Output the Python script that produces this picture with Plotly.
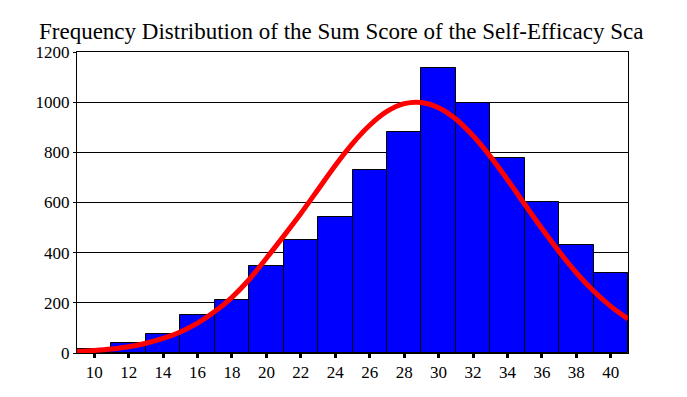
import plotly.graph_objects as go

# Histogram bins (centers) and counts
bin_centers = [10, 12, 14, 16, 18, 20, 22, 24, 26, 28, 30, 32, 34, 36, 38, 40]
counts = [17, 40, 77, 152, 213, 345, 450, 542, 730, 881, 1136, 995, 777, 602, 431, 319]

# Fitted normal curve
curve_x = [9, 10, 11, 12, 13, 14, 15, 16, 17, 18, 19, 20, 21, 22, 23, 24, 25,
           26, 27, 28, 29, 30, 31, 32, 33, 34, 35, 36, 37, 38, 39, 40, 41]
curve_y = [6, 10, 16, 25, 39, 58, 84, 119, 165, 222, 293, 378, 466, 556, 652, 748, 835,
           908, 963, 994, 999, 978, 933, 866, 784, 691, 593, 496, 404, 320, 247, 186, 136]

x_ticks = [10, 12, 14, 16, 18, 20, 22, 24, 26, 28, 30, 32, 34, 36, 38, 40]
y_ticks = [0, 200, 400, 600, 800, 1000, 1200]

title_text = "Frequency Distribution of the Sum Score of the Self-Efficacy Sca"

fig = go.Figure()
fig.add_trace(go.Bar(
    x=bin_centers, y=counts, width=2,
    marker=dict(color="#0000FF", line=dict(color="black", width=1)),
    showlegend=False, hoverinfo="x+y",
))
fig.add_trace(go.Scatter(
    x=curve_x, y=curve_y, mode="lines",
    line=dict(color="#FF0000", width=5, shape="spline"),
    showlegend=False,
))

font = "Liberation Serif"
W, H = 679, 389  # page body has an 8px margin
fig.update_layout(
    width=W, height=H,
    margin=dict(l=69, r=59, t=44, b=44),
    paper_bgcolor="white", plot_bgcolor="white",
    bargap=0,
    font=dict(family=font, color="black", size=17),
    title=dict(text=title_text, font=dict(family=font, size=23, color="black"),
               xref="container", x=31/W, xanchor="left",
               yref="container", y=1 - 23/H, yanchor="middle"),
    xaxis=dict(range=[9, 41], tickvals=x_ticks, ticks="outside", ticklen=4, tickwidth=3,
               tickcolor="black", showline=True, linecolor="black", linewidth=1, mirror=True,
               showgrid=False, zeroline=False, tickfont=dict(size=17, family=font)),
    yaxis=dict(range=[0, 1200], tickvals=y_ticks, ticks="outside", ticklen=3, tickwidth=1,
               tickcolor="black", showline=True, linecolor="black", linewidth=1, mirror=True,
               showgrid=True, gridcolor="black", gridwidth=1, zeroline=False,
               tickfont=dict(size=17, family=font)),
)

fig.write_html("out.html")
